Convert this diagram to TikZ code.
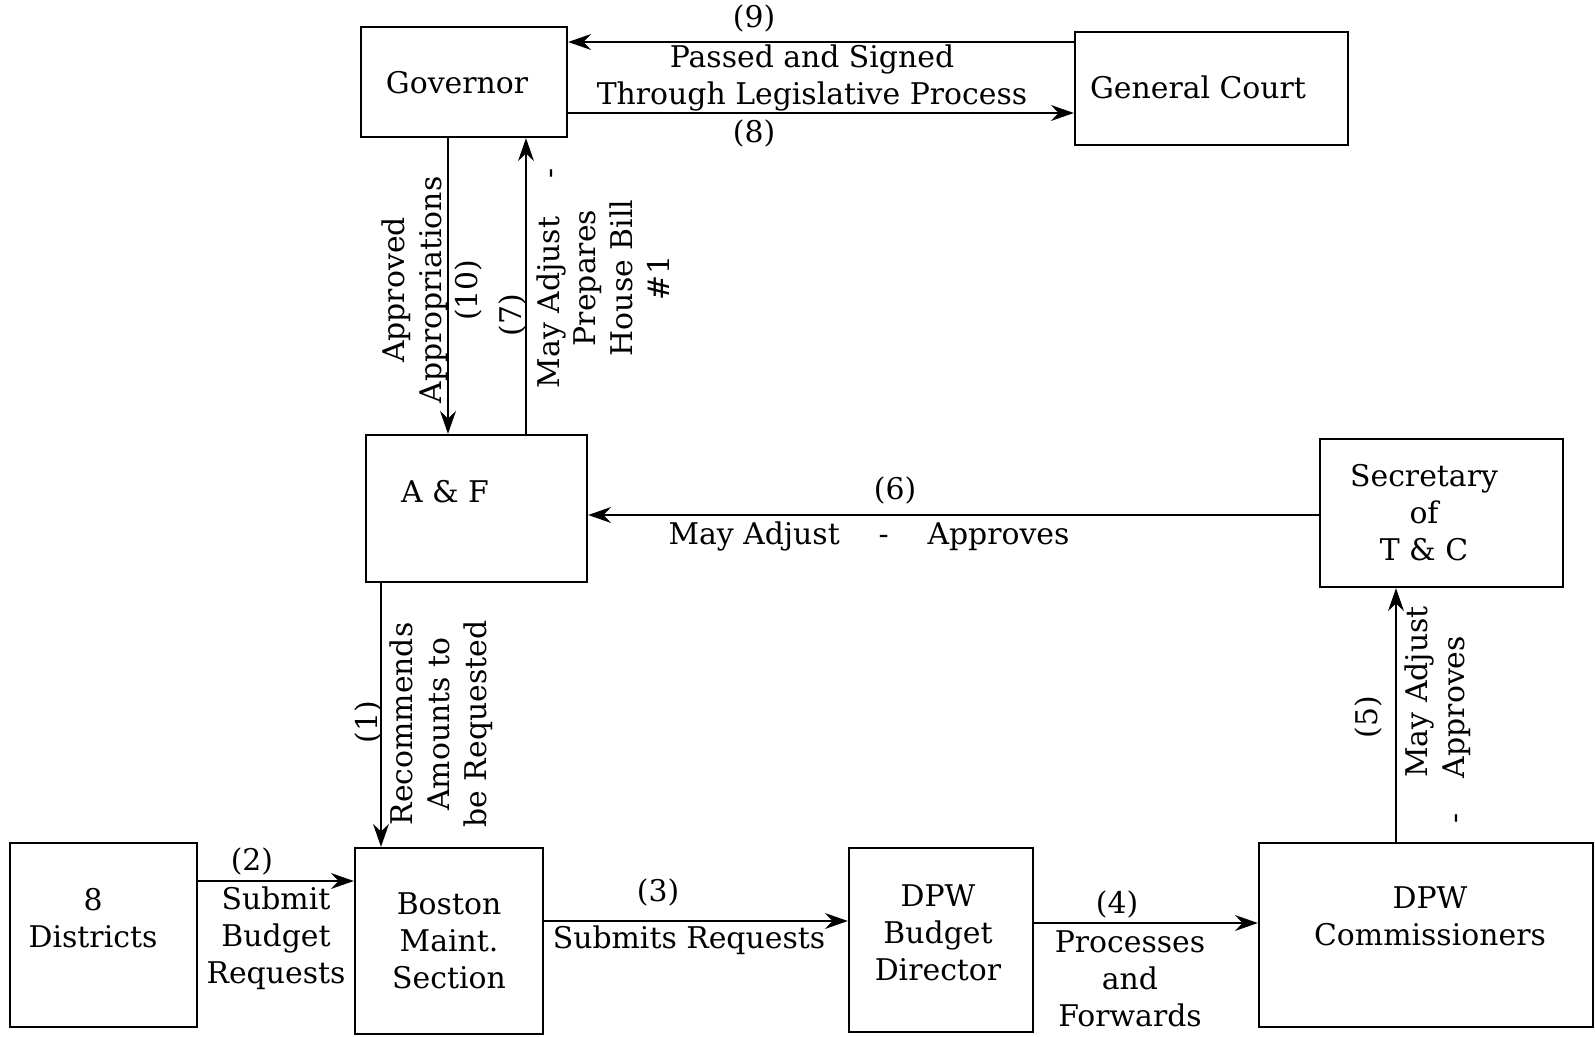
\documentclass[tikz,border=0pt]{standalone}
\usepackage{fontspec}
\setmainfont{DejaVu Serif}
\usepackage{tikz}
\usetikzlibrary{arrows.meta}
\tikzstyle{box} = [rectangle, draw=black, line width=1.3pt, inner sep=0pt]
\tikzstyle{arrow} = [line width=1.2pt,->,>={Stealth[length=13pt,width=9pt]}]
\tikzstyle{lbl} = [align=center, inner sep=0pt]
\tikzstyle{vlbl} = [lbl, rotate=90]

\begin{document}
\begin{tikzpicture}[x=0.02cm, y=-0.02cm, font=\fontsize{17}{21}\selectfont]
		\useasboundingbox (0,0) rectangle (1595,1037);
		% boxes
		\node[box, minimum width=4.12cm, minimum height=2.2cm] (gov) at (464,82) {};
		\node[box, minimum width=5.46cm, minimum height=2.26cm] (court) at (1211.5,88.5) {};
		\node[box, minimum width=4.42cm, minimum height=2.94cm] (af) at (476.5,508.5) {};
		\node[box, minimum width=4.86cm, minimum height=2.96cm] (sec) at (1441.5,513) {};
		\node[box, minimum width=3.74cm, minimum height=3.68cm] (dist) at (103.5,935) {};
		\node[box, minimum width=3.76cm, minimum height=3.72cm] (bos) at (449,941) {};
		\node[box, minimum width=3.68cm, minimum height=3.68cm] (dir) at (941,940) {};
		\node[box, minimum width=6.68cm, minimum height=3.68cm] (com) at (1426,935) {};

		% box texts
		\node[lbl] (govtext) at (457,83) {Governor};
		\node[lbl] (courttext) at (1198,87) {General Court};
		\node[lbl] (aftext) at (445,492) {A \& F};
		\node[lbl] (sectext) at (1424,513) {Secretary\\of\\T \& C};
		\node[lbl] (disttext) at (93,918) {8\\Districts};
		\node[lbl] (bostext) at (449,941) {Boston\\Maint.\\Section};
		\node[lbl] (dirtext) at (938,933) {DPW\\Budget\\Director};
		\node[lbl] (comtext) at (1430,916) {DPW\\Commissioners};

		% connectors
		\draw[arrow] (af.south -| 381,0) -- (bos.north -| 381,0);
		\draw[arrow] (dist.east |- 0,881) -- (bos.west |- 0,881);
		\draw[arrow] (bos.east |- 0,921) -- (dir.west |- 0,921);
		\draw[arrow] (dir.east |- 0,923) -- (com.west |- 0,923);
		\draw[arrow] (com.north -| 1396,0) -- (sec.south -| 1396,0);
		\draw[arrow] (sec.west |- 0,515) -- (af.east |- 0,515);
		\draw[arrow] (af.north -| 526,0) -- (gov.south -| 526,0);
		\draw[arrow] (gov.east |- 0,113) -- (court.west |- 0,113);
		\draw[arrow] (court.west |- 0,42) -- (gov.east |- 0,42);
		\draw[arrow] (gov.south -| 448,0) -- (af.north -| 448,0);

		% labels
		\node[vlbl] (n1) at (368,722) {(1)};
		\node[vlbl] (t1) at (441,724) {Recommends\\Amounts to\\be Requested};
		\node[lbl] (n2) at (252,861) {(2)};
		\node[lbl] (t2) at (276,938) {Submit\\Budget\\Requests};
		\node[lbl] (n3) at (658,892) {(3)};
		\node[lbl] (t3) at (689,940) {Submits Requests};
		\node[lbl] (n4) at (1117,904) {(4)};
		\node[lbl] (t4) at (1130,979) {Processes\\and\\Forwards};
		\node[vlbl] (n5) at (1368,717) {(5)};
		\node[vlbl] (t5a) at (1419,692) {May Adjust};
		\node[vlbl] (t5b) at (1457,730) {-\hspace{1.2em}Approves};
		\node[lbl] (n6) at (895,490) {(6)};
		\node[lbl] (t6) at (869,536) {May Adjust\hspace{1.3em}-\hspace{1.3em}Approves};
		\node[vlbl] (n7) at (512,315) {(7)};
		\node[vlbl] (t7) at (603,278) {May Adjust\hspace{1.3em}-\\Prepares\\House Bill\\\#1};
		\node[lbl] (n8) at (754,133) {(8)};
		\node[lbl] (n9) at (754,18) {(9)};
		\node[lbl] (t89) at (812,78) {Passed and Signed\\Through Legislative Process};
		\node[vlbl] (t10) at (432,290) {Approved\\Appropriations\\(10)};
	\end{tikzpicture}
\end{document}
